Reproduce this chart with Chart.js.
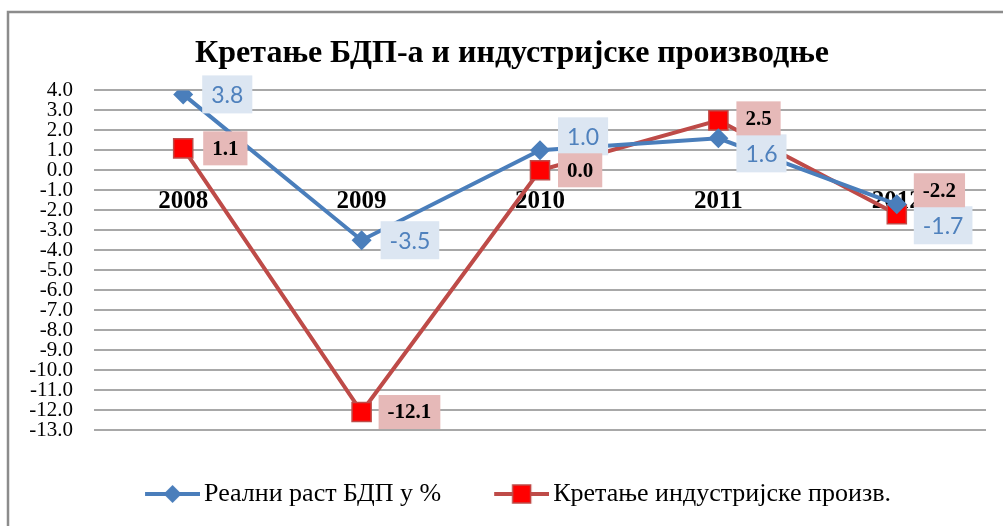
<!DOCTYPE html>
<html>
<head>
<meta charset="utf-8">
<title>Кретање БДП-а и индустријске производње</title>
<script src="https://cdn.jsdelivr.net/npm/chart.js@4/dist/chart.umd.min.js"></script>
<style>
  html, body { margin: 0; padding: 0; background: #fff; }
  #wrap { position: relative; width: 1003px; height: 526px; overflow: hidden; }
</style>
</head>
<body>
<div id="wrap"><canvas id="chart" width="1003" height="526"></canvas></div>
<script>
// data
const years = ['2008', '2009', '2010', '2011', '2012'];
const gdpGrowth = [3.8, -3.5, 1.0, 1.6, -1.7];
const industry = [1.1, -12.1, 0.0, 2.5, -2.2];
const seriesNames = ['Реални раст БДП у %', 'Кретање индустријске произв.'];
const chartTitle = 'Кретање БДП-а и индустријске производње';

const BLUE = '#4a7ebb';
const RED_LINE = '#be4b48';
const RED_FILL = '#ff0000';
const SERIF = '"Liberation Serif", "DejaVu Serif", serif';

// where each value box sits relative to its point (dx to the left edge, dy to the box centre)
const labelStyle = [
  { bg: '#dce6f2', color: '#4f81bd', font: '23px Lato, "Open Sans", sans-serif', h: 38, pad: 9,
    offsets: [[19, 0], [19, 0], [18, -14], [18, 15], [17, 21]] },
  { bg: '#e6b9b8', color: '#000', font: 'bold 21px ' + SERIF, h: 34, pad: 9,
    offsets: [[20, 0], [17, 0], [18, 0], [18, -2], [17, -24]] }
];

// legend icon: a short line with the series marker, drawn on the right 55px of the image
function legendIcon(color, marker) {
  const c = document.createElement('canvas');
  c.width = 66; c.height = 22;
  const g = c.getContext('2d');
  const x0 = 11, x1 = 66, mid = (x0 + x1) / 2;
  g.strokeStyle = color; g.lineWidth = 4;
  g.beginPath(); g.moveTo(x0, 11); g.lineTo(x1, 11); g.stroke();
  if (marker === 'diamond') {
    g.fillStyle = color;
    g.beginPath(); g.moveTo(mid, 2); g.lineTo(mid + 9, 11); g.lineTo(mid, 20); g.lineTo(mid - 9, 11); g.closePath(); g.fill();
  } else {
    g.fillStyle = RED_FILL; g.strokeStyle = RED_LINE; g.lineWidth = 1.5;
    g.fillRect(mid - 9, 2, 18, 18); g.strokeRect(mid - 9, 2, 18, 18);
  }
  return c;
}

const framePlugin = {
  id: 'frame',
  beforeDraw(chart) {
    const ctx = chart.ctx;
    ctx.save();
    ctx.strokeStyle = '#8c8c8c';
    ctx.lineWidth = 2.5;
    ctx.beginPath();
    ctx.moveTo(8, chart.height + 5);
    ctx.lineTo(8, 12);
    ctx.lineTo(chart.width + 5, 12);
    ctx.stroke();
    ctx.restore();
  }
};

// title and legend in the picture sit a bit right of the canvas centre
const boxNudge = {
  id: 'boxNudge',
  afterLayout(chart) {
    if (chart.legend) { chart.legend.left += 12; chart.legend.right += 12; }
    if (chart.titleBlock) { chart.titleBlock.left += 7; chart.titleBlock.right += 7; }
  }
};

const valueBoxes = {
  id: 'valueBoxes',
  afterDatasetsDraw(chart) {
    const ctx = chart.ctx;
    chart.data.datasets.forEach((ds, di) => {
      const st = labelStyle[di];
      const meta = chart.getDatasetMeta(di);
      meta.data.forEach((pt, i) => {
        const txt = ds.data[i].toFixed(1);
        ctx.save();
        ctx.font = st.font;
        const w = ctx.measureText(txt).width + st.pad * 2;
        const x = pt.x + st.offsets[i][0];
        const y = pt.y + st.offsets[i][1];
        ctx.fillStyle = st.bg;
        ctx.fillRect(x, y - st.h / 2, w, st.h);
        ctx.fillStyle = st.color;
        ctx.textAlign = 'center';
        ctx.textBaseline = 'middle';
        ctx.fillText(txt, x + w / 2, y + 1);
        ctx.restore();
      });
    });
  }
};

new Chart(document.getElementById('chart'), {
  type: 'line',
  data: {
    labels: years,
    datasets: [
      {
        label: seriesNames[0],
        data: gdpGrowth,
        borderColor: BLUE,
        backgroundColor: BLUE,
        borderWidth: 4,
        pointStyle: 'rectRot',
        pointRadius: 10,
        pointBorderWidth: 0,
        pointBackgroundColor: BLUE,
        tension: 0
      },
      {
        label: seriesNames[1],
        data: industry,
        borderColor: RED_LINE,
        backgroundColor: RED_FILL,
        borderWidth: 4,
        pointStyle: 'rect',
        pointRadius: 13.5,
        pointBorderWidth: 1.5,
        pointBorderColor: RED_LINE,
        pointBackgroundColor: RED_FILL,
        tension: 0
      }
    ]
  },
  options: {
    responsive: false,
    devicePixelRatio: 1,
    animation: false,
    layout: { padding: { top: 10, left: 24, right: 17, bottom: 9 } },
    plugins: {
      title: {
        display: true,
        text: chartTitle,
        color: '#000',
        font: { family: SERIF, size: 32, weight: 'bold' },
        padding: { top: 25, bottom: 17 }
      },
      legend: {
        position: 'bottom',
        labels: {
          usePointStyle: true,
          pointStyleWidth: 48,
          padding: 51,
          color: '#000',
          font: { family: SERIF, size: 26 },
          generateLabels(chart) {
            return chart.data.datasets.map((ds, i) => ({
              text: ds.label,
              pointStyle: legendIcon(i === 0 ? BLUE : RED_LINE, i === 0 ? 'diamond' : 'square'),
              fillStyle: ds.backgroundColor,
              strokeStyle: ds.borderColor,
              lineWidth: 0,
              hidden: false,
              datasetIndex: i
            }));
          }
        }
      },
      tooltip: { enabled: false }
    },
    scales: {
      x: {
        position: { y: 0 },
        offset: true,
        grid: { display: false, drawTicks: false },
        border: { display: false },
        ticks: {
          color: '#000',
          padding: 16,
          font: { family: SERIF, size: 25, weight: 'bold' }
        }
      },
      y: {
        min: -13,
        max: 4,
        afterFit(s) { s.width = 70; },
        grid: { color: '#a8a8a8', lineWidth: 2, drawTicks: false },
        border: { display: false },
        ticks: {
          stepSize: 1,
          autoSkip: false,
          padding: 21,
          color: '#000',
          font: { family: SERIF, size: 21 },
          callback: v => Number(v).toFixed(1)
        }
      }
    }
  },
  plugins: [framePlugin, boxNudge, valueBoxes]
});
</script>
</body>
</html>
